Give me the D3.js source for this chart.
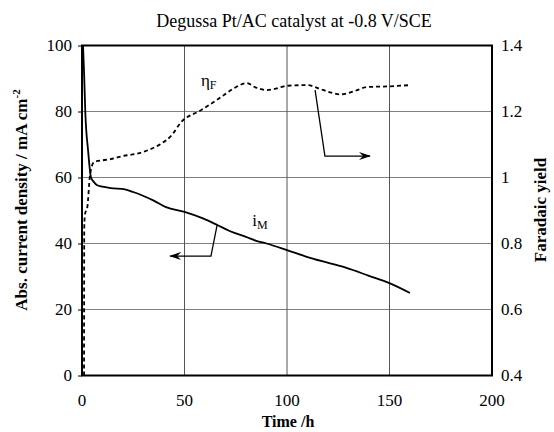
<!DOCTYPE html>
<html>
<script src="https://d3js.org/d3.v7.min.js"></script>
<style>
  body {margin:0; background:white;}
  svg text {font-family:'Liberation Serif', serif; fill:black;}
  .grid {stroke:#808080; stroke-width:1;}
</style>
<body>
<svg width="554" height="432"></svg>
<script>
// time (h) vs absolute current density (mA cm-2)
var timeI = [0.5, 1, 1.6, 3, 4.4, 6, 7.2, 10, 14, 21, 25, 30, 35, 41, 50, 59, 66, 72, 80, 85, 90, 100, 110, 121, 129, 140, 150, 160];
var currentI = [100, 92, 80, 68, 60, 58.5, 57.7, 57.2, 56.8, 56.4, 55.6, 54.4, 53, 51, 49.6, 47.6, 45.6, 43.8, 42, 40.8, 40, 38, 35.9, 34, 32.6, 30.2, 28, 25];

// time (h) vs faradaic yield
var timeF = [1, 1.1, 1.5, 2.6, 3.9, 5.9, 10, 14, 20, 28, 33, 38, 44, 48, 58, 67, 74, 80.5, 84, 90, 95, 100, 110, 115, 121, 126, 133, 139, 149, 160];
var yieldF = [0.4, 0.85, 0.89, 0.91, 1.007, 1.047, 1.052, 1.056, 1.065, 1.074, 1.085, 1.1, 1.13, 1.165, 1.204, 1.24, 1.27, 1.286, 1.275, 1.265, 1.27, 1.278, 1.28, 1.271, 1.258, 1.252, 1.262, 1.274, 1.276, 1.28];

var xTicks = [0, 50, 100, 150, 200];
var leftTicks = [0, 20, 40, 60, 80, 100];
var rightTicks = [0.4, 0.6, 0.8, 1, 1.2, 1.4];

// annotation arrows: [time, value] points
var arrowI = [[65.9, 45.6], [62.9, 36.2], [43, 36.2]];
var arrowF = [[113.7, 1.265], [118.5, 1.065], [140.5, 1.065]];

var serif = "'Liberation Serif', serif";
var svg = d3.select('svg');
var x = d3.scaleLinear().domain([0, 200]).range([82, 492]);
var yL = d3.scaleLinear().domain([0, 100]).range([375.5, 45.5]);
var yR = d3.scaleLinear().domain([0.4, 1.4]).range([375.5, 45.5]);

svg.append('defs').append('marker')
  .attr('id', 'head').attr('viewBox', '0 -5 12 10')
  .attr('refX', 11).attr('refY', 0)
  .attr('markerWidth', 12).attr('markerHeight', 10)
  .attr('markerUnits', 'userSpaceOnUse')
  .attr('orient', 'auto')
  .append('path').attr('d', 'M0,-4L12,0L0,4L4,0Z').attr('fill', 'black');

// grid
svg.append('g').selectAll('line').data([20, 40, 60, 80]).enter().append('line')
  .attr('class', 'grid')
  .attr('x1', x(0)).attr('x2', x(200))
  .attr('y1', function (d) {return yL(d);}).attr('y2', function (d) {return yL(d);});
svg.append('g').selectAll('line').data([50, 100, 150]).enter().append('line')
  .attr('class', 'grid').style('stroke', '#555')
  .attr('x1', function (d) {return x(d);}).attr('x2', function (d) {return x(d);})
  .attr('y1', yL(0)).attr('y2', yL(100));

// axes
svg.append('g').attr('transform', 'translate(' + x(0) + ',0)')
  .call(d3.axisLeft(yL).tickValues(leftTicks).tickSize(4).tickPadding(6))
  .attr('font-family', serif).attr('font-size', 17)
  .call(function (g) {g.select('.domain').remove();});

svg.append('g').selectAll('text').data(rightTicks).enter().append('text')
  .attr('x', 501).attr('y', function (d) {return yR(d);})
  .attr('dy', '0.35em')
  .style('font-family', serif).style('font-size', '17px')
  .text(function (d) {return d3.format('~g')(d);});

svg.append('g').selectAll('text').data(xTicks).enter().append('text')
  .attr('x', function (d) {return x(d);}).attr('y', 406)
  .attr('text-anchor', 'middle')
  .style('font-family', serif).style('font-size', '17px')
  .text(function (d) {return d;});

svg.append('rect')
  .attr('x', x(0)).attr('y', yL(100))
  .attr('width', x(200) - x(0)).attr('height', yL(0) - yL(100))
  .attr('fill', 'none').attr('stroke', 'black').attr('stroke-width', 2);

// series
var lineI = d3.line()
  .x(function (d, i) {return x(timeI[i]);})
  .y(function (d, i) {return yL(currentI[i]);})
  .curve(d3.curveMonotoneX);
svg.append('path').datum(timeI).attr('d', lineI)
  .attr('fill', 'none').attr('stroke', 'black').attr('stroke-width', 1.8);

var lineF = d3.line()
  .x(function (d, i) {return x(timeF[i]);})
  .y(function (d, i) {return yR(yieldF[i]);})
  .curve(d3.curveMonotoneX);
svg.append('path').datum(timeF).attr('d', lineF)
  .attr('fill', 'none').attr('stroke', 'black').attr('stroke-width', 1.8)
  .attr('stroke-dasharray', '4,3');

// arrows
svg.append('polyline')
  .attr('points', arrowI.map(function (p) {return x(p[0]) + ',' + yL(p[1]);}).join(' '))
  .attr('fill', 'none').attr('stroke', 'black').attr('stroke-width', 1.3)
  .attr('marker-end', 'url(#head)');
svg.append('polyline')
  .attr('points', arrowF.map(function (p) {return x(p[0]) + ',' + yR(p[1]);}).join(' '))
  .attr('fill', 'none').attr('stroke', 'black').attr('stroke-width', 1.3)
  .attr('marker-end', 'url(#head)');

// series labels
var labI = svg.append('text').attr('x', x(83)).attr('y', yL(45.4))
  .style('font-family', serif).style('font-size', '17px');
labI.append('tspan').text('i');
labI.append('tspan').attr('dy', 3).style('font-size', '12px').text('M');

var labF = svg.append('text').attr('x', x(58)).attr('y', yR(1.278))
  .style('font-family', serif).style('font-size', '17px');
labF.append('tspan').text('η');
labF.append('tspan').attr('dy', 3).style('font-size', '12px').text('F');

// titles
svg.append('text').attr('x', 294).attr('y', 27)
  .attr('text-anchor', 'middle')
  .style('font-family', serif).style('font-size', '18px')
  .text('Degussa Pt/AC catalyst at -0.8 V/SCE');

svg.append('text').attr('x', 288).attr('y', 427)
  .attr('text-anchor', 'middle')
  .style('font-family', serif).style('font-size', '16px').style('font-weight', 'bold')
  .text('Time /h');

var yLab = svg.append('text')
  .attr('transform', 'translate(27,200) rotate(-90)')
  .attr('text-anchor', 'middle')
  .style('font-family', serif).style('font-size', '17px').style('font-weight', 'bold');
yLab.append('tspan').text('Abs. current density / mA cm');
yLab.append('tspan').attr('dy', -7).style('font-size', '11px').text('-2');

svg.append('text')
  .attr('transform', 'translate(546,210) rotate(-90)')
  .attr('text-anchor', 'middle')
  .style('font-family', serif).style('font-size', '17px').style('font-weight', 'bold')
  .text('Faradaic yield');
</script>
</body>
</html>
